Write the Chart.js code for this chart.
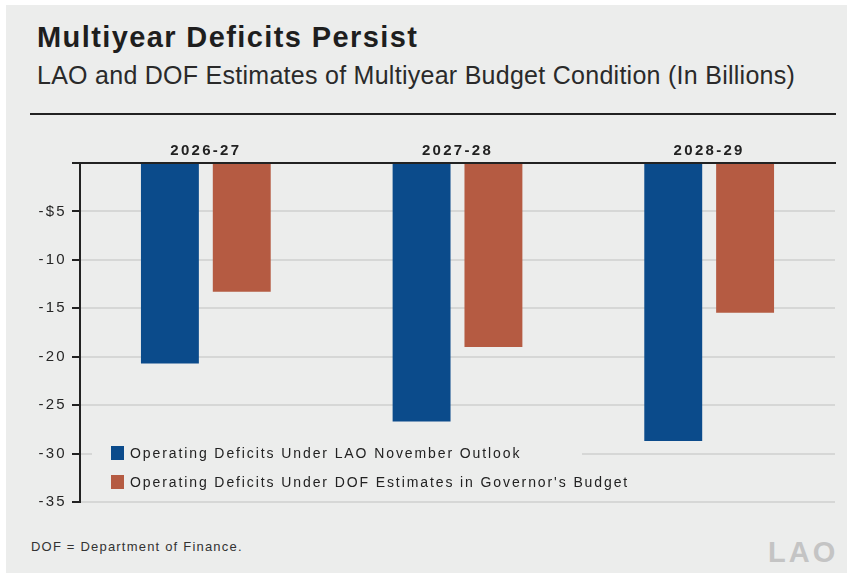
<!DOCTYPE html>
<html>
<head>
<meta charset="utf-8">
<script src="https://cdn.jsdelivr.net/npm/chart.js@4"></script>
<style>
  body { margin: 0; background: #fff; font-family: "Liberation Sans", Arial, sans-serif; }
  #panel { position: absolute; left: 6px; top: 5px; width: 841px; height: 568px; background: #ecedec; }
  .txt { position: absolute; white-space: nowrap; color: #1e1e1e; line-height: 1; }
  #title { left: 37px; top: 23px; font-size: 29px; font-weight: bold; letter-spacing: 1.4px; }
  #subtitle { left: 37px; top: 63px; font-size: 25px; color: #2a2a2a; letter-spacing: 0.27px; }
  #rule { position: absolute; left: 30px; top: 113px; width: 806px; height: 2px; background: #222; }
  #note { left: 31px; top: 540px; font-size: 13px; color: #333; letter-spacing: 1.2px; }
  #logo { left: 768px; top: 538px; font-size: 29px; font-weight: bold; color: #c4c4c4; letter-spacing: 3px; }
  #wrap { position: absolute; left: 6px; top: 130px; width: 835px; height: 386px; }
</style>
</head>
<body>
<div id="panel"></div>
<div class="txt" id="title">Multiyear Deficits Persist</div>
<div class="txt" id="subtitle">LAO and DOF Estimates of Multiyear Budget Condition (In Billions)</div>
<div id="rule"></div>
<div id="wrap"><canvas id="budget-chart"></canvas></div>
<div class="txt" id="note">DOF = Department of Finance.</div>
<div class="txt" id="logo">LAO</div>

<script>
// Data (billions)
const fiscalYears = ['2026-27', '2027-28', '2028-29'];
const seriesNames = [
    'Operating Deficits Under LAO November Outlook',
    "Operating Deficits Under DOF Estimates in Governor's Budget"
];
const laoDeficits = [-20.7, -26.7, -28.7];
const dofDeficits = [-13.3, -19.0, -15.45];
const seriesColors = ['#0b4b8b', '#b55b42'];

// Legend drawn inside the plot, lower left
const insideLegend = {
    id: 'insideLegend',
    afterDraw(chart) {
        const ctx = chart.ctx;
        const area = chart.chartArea;
        ctx.save();
        ctx.fillStyle = '#ecedec';
        ctx.fillRect(area.left + 12, area.bottom - 65, 490, 56);
        ctx.font = '14px "Liberation Sans", Arial, sans-serif';
        ctx.letterSpacing = '1.9px';
        ctx.textBaseline = 'middle';
        chart.data.datasets.forEach((ds, i) => {
            const y = area.bottom - 49 + i * 29;
            ctx.fillStyle = ds.backgroundColor;
            ctx.fillRect(area.left + 31, y - 7, 13, 14);
            ctx.fillStyle = '#222';
            ctx.fillText(ds.label, area.left + 50, y + 1);
        });
        ctx.restore();
    }
};

const spacing = {
    id: 'spacing',
    beforeDraw(chart) { chart.ctx.letterSpacing = '2.3px'; }
};

const budgetChart = new Chart(document.querySelector('#budget-chart').getContext('2d'), {
    type: 'bar',
    data: {
        labels: fiscalYears,
        datasets: [
            {
                label: seriesNames[0],
                data: laoDeficits,
                backgroundColor: seriesColors[0],
                categoryPercentage: 0.571,
                barPercentage: 0.806
            },
            {
                label: seriesNames[1],
                data: dofDeficits,
                backgroundColor: seriesColors[1],
                categoryPercentage: 0.571,
                barPercentage: 0.806
            }
        ]
    },
    options: {
        responsive: true,
        maintainAspectRatio: false,
        animation: false,
        layout: { padding: { left: 0, right: 6, top: 0, bottom: 10 } },
        plugins: {
            legend: { display: false },
            tooltip: { enabled: false }
        },
        scales: {
            x: {
                position: 'top',
                grid: { display: false, drawTicks: false },
                border: { display: true, color: '#222', width: 2 },
                ticks: {
                    color: '#222',
                    padding: 3,
                    font: { family: '"Liberation Sans", Arial, sans-serif', size: 15, weight: 'bold' }
                },
                afterFit(scale) { scale.height = 33; }
            },
            y: {
                min: -35,
                max: 0,
                ticks: {
                    stepSize: 5,
                    color: '#262626',
                    padding: 5,
                    font: { family: '"Liberation Sans", Arial, sans-serif', size: 15 },
                    callback: (v) => v === 0 ? '' : (v === -5 ? '-$5' : String(v))
                },
                grid: {
                    color: '#d6d7d6',
                    lineWidth: 2,
                    tickColor: '#222',
                    tickLength: 8,
                    tickWidth: 2
                },
                border: { display: true, color: '#222', width: 2 },
                afterFit(scale) { scale.width = 74; }
            }
        }
    },
    plugins: [spacing, insideLegend]
});
</script>
</body>
</html>
